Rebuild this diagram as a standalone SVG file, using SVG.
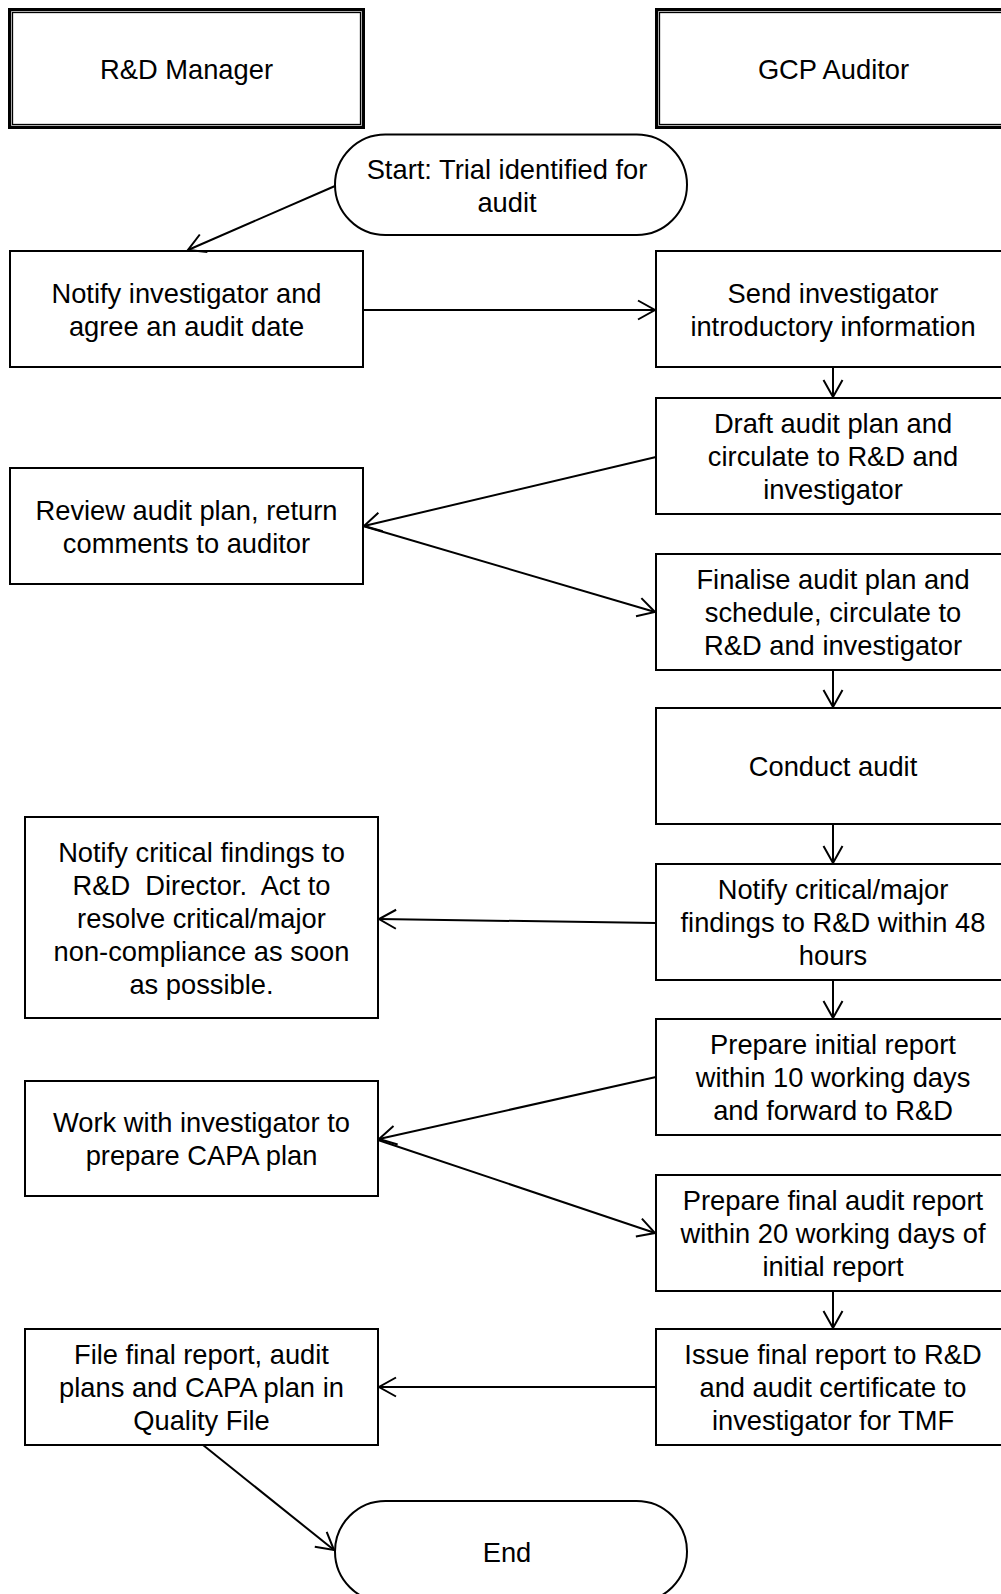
<svg xmlns="http://www.w3.org/2000/svg" width="1001" height="1594" viewBox="0 0 1001 1594">
<style>
  .bg { fill: #ffffff; }
  .box { fill: #ffffff; stroke: #000000; stroke-width: 2; }
  .hdr-out { fill: #ffffff; stroke: #000000; stroke-width: 3.2; }
  .hdr-in { fill: none; stroke: #000000; stroke-width: 1.3; }
  .term { fill: #ffffff; stroke: #000000; stroke-width: 2; }
  .lbl { font-family: "Liberation Sans", Arial, sans-serif; font-size: 27.3px; fill: #000000; text-anchor: middle; }
  .conn { fill: none; stroke: #000000; stroke-width: 2; marker-end: url(#arr); }
</style>
<defs>
  <marker id="arr" markerUnits="userSpaceOnUse" markerWidth="40" markerHeight="40" viewBox="-20 -20 40 40" refX="0" refY="0" orient="auto">
    <path d="M -17 -9.5 L 0 0 L -17 9.5" fill="none" stroke="#000000" stroke-width="2"/>
  </marker>
</defs>
<rect class="bg" x="0" y="0" width="1001" height="1594"/>

<g id="hdr-rd">
  <rect class="hdr-out" x="9.6" y="9.6" width="353.8" height="117.8"/>
  <rect class="hdr-in" x="12.5" y="12.5" width="348" height="112"/>
  <text class="lbl" x="186.5" y="79">R&amp;D Manager</text>
</g>
<g id="hdr-gcp">
  <rect class="hdr-out" x="656.6" y="9.6" width="360" height="117.8"/>
  <rect class="hdr-in" x="659.5" y="12.5" width="360" height="112"/>
  <text class="lbl" x="833.5" y="79">GCP Auditor</text>
</g>

<g id="start">
  <rect class="term" x="335" y="134.5" width="352" height="100.5" rx="50.25" ry="50.25"/>
  <text class="lbl" x="507" y="179">Start: Trial identified for</text>
  <text class="lbl" x="507" y="212">audit</text>
</g>

<g id="notify-inv">
  <rect class="box" x="10" y="251" width="353" height="116"/>
  <text class="lbl" x="186.5" y="303">Notify investigator and</text>
  <text class="lbl" x="186.5" y="336">agree an audit date</text>
</g>
<g id="send-info">
  <rect class="box" x="656" y="251" width="354" height="116"/>
  <text class="lbl" x="833" y="303">Send investigator</text>
  <text class="lbl" x="833" y="336">introductory information</text>
</g>
<g id="draft-plan">
  <rect class="box" x="656" y="398" width="354" height="116"/>
  <text class="lbl" x="833" y="433">Draft audit plan and</text>
  <text class="lbl" x="833" y="466">circulate to R&amp;D and</text>
  <text class="lbl" x="833" y="499">investigator</text>
</g>
<g id="review-plan">
  <rect class="box" x="10" y="468" width="353" height="116"/>
  <text class="lbl" x="186.5" y="519.5">Review audit plan, return</text>
  <text class="lbl" x="186.5" y="552.5">comments to auditor</text>
</g>
<g id="finalise-plan">
  <rect class="box" x="656" y="554" width="354" height="116"/>
  <text class="lbl" x="833" y="589">Finalise audit plan and</text>
  <text class="lbl" x="833" y="622">schedule, circulate to</text>
  <text class="lbl" x="833" y="655">R&amp;D and investigator</text>
</g>
<g id="conduct">
  <rect class="box" x="656" y="708" width="354" height="116"/>
  <text class="lbl" x="833" y="776">Conduct audit</text>
</g>
<g id="notify-major">
  <rect class="box" x="656" y="864" width="354" height="116"/>
  <text class="lbl" x="833" y="899">Notify critical/major</text>
  <text class="lbl" x="833" y="932">findings to R&amp;D within 48</text>
  <text class="lbl" x="833" y="965">hours</text>
</g>
<g id="notify-critical">
  <rect class="box" x="25" y="817" width="353" height="201"/>
  <text class="lbl" x="201.5" y="861.5">Notify critical findings to</text>
  <text class="lbl" x="201.5" y="894.5" style="white-space:pre">R&amp;D  Director.  Act to</text>
  <text class="lbl" x="201.5" y="927.5">resolve critical/major</text>
  <text class="lbl" x="201.5" y="960.5">non-compliance as soon</text>
  <text class="lbl" x="201.5" y="993.5">as possible.</text>
</g>
<g id="initial-report">
  <rect class="box" x="656" y="1019" width="354" height="116"/>
  <text class="lbl" x="833" y="1054">Prepare initial report</text>
  <text class="lbl" x="833" y="1087">within 10 working days</text>
  <text class="lbl" x="833" y="1120">and forward to R&amp;D</text>
</g>
<g id="capa">
  <rect class="box" x="25" y="1081" width="353" height="115"/>
  <text class="lbl" x="201.5" y="1132">Work with investigator to</text>
  <text class="lbl" x="201.5" y="1165">prepare CAPA plan</text>
</g>
<g id="final-report">
  <rect class="box" x="656" y="1175" width="354" height="116"/>
  <text class="lbl" x="833" y="1210">Prepare final audit report</text>
  <text class="lbl" x="833" y="1243">within 20 working days of</text>
  <text class="lbl" x="833" y="1276">initial report</text>
</g>
<g id="issue-report">
  <rect class="box" x="656" y="1329" width="354" height="116"/>
  <text class="lbl" x="833" y="1364">Issue final report to R&amp;D</text>
  <text class="lbl" x="833" y="1397">and audit certificate to</text>
  <text class="lbl" x="833" y="1430">investigator for TMF</text>
</g>
<g id="file-report">
  <rect class="box" x="25" y="1329" width="353" height="116"/>
  <text class="lbl" x="201.5" y="1364">File final report, audit</text>
  <text class="lbl" x="201.5" y="1397">plans and CAPA plan in</text>
  <text class="lbl" x="201.5" y="1430">Quality File</text>
</g>
<g id="end">
  <rect class="term" x="335" y="1501" width="352" height="101" rx="50.5" ry="50.5"/>
  <text class="lbl" x="507" y="1562">End</text>
</g>

<g id="connectors">
  <path class="conn" d="M 335 186 L 188 250"/>
  <path class="conn" d="M 363 310 L 655 310"/>
  <path class="conn" d="M 833 367 L 833 397"/>
  <path class="conn" d="M 656 457 L 364 526"/>
  <path class="conn" d="M 363 526 L 655 612"/>
  <path class="conn" d="M 833 670 L 833 707"/>
  <path class="conn" d="M 833 824 L 833 863"/>
  <path class="conn" d="M 656 923 L 379 919"/>
  <path class="conn" d="M 833 980 L 833 1018"/>
  <path class="conn" d="M 656 1077 L 379 1139"/>
  <path class="conn" d="M 378 1140 L 655 1233"/>
  <path class="conn" d="M 833 1291 L 833 1328"/>
  <path class="conn" d="M 656 1387 L 379 1387"/>
  <path class="conn" d="M 203 1445 L 334 1550"/>
</g>
</svg>
